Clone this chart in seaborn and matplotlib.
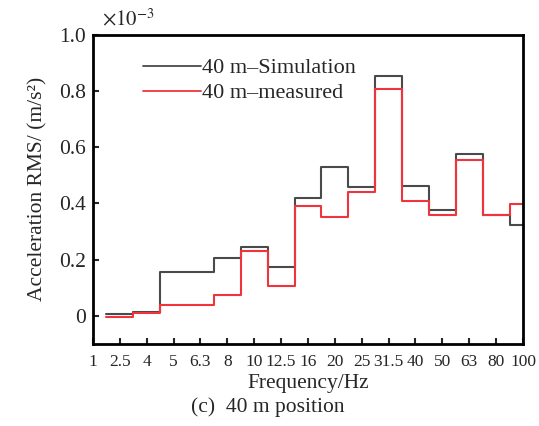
import numpy as np
import pandas as pd
import matplotlib
matplotlib.use("Agg")
import matplotlib.pyplot as plt
import seaborn as sns

# ---- data ----
freq_labels = ["1", "2.5", "4", "5", "6.3", "8", "10", "12.5", "16", "20",
               "25", "31.5", "40", "50", "63", "80", "100"]
band_labels = freq_labels[1:]  # one value per band, centred on the label
simulation = [0.008, 0.015, 0.157, 0.155, 0.207, 0.245, 0.175, 0.420, 0.529,
              0.457, 0.851, 0.460, 0.376, 0.574, 0.358, 0.323]
measured = [-0.004, 0.011, 0.040, 0.040, 0.074, 0.229, 0.105, 0.389, 0.353,
            0.442, 0.805, 0.410, 0.359, 0.555, 0.358, 0.396]
series_names = ["40 m\u2013Simulation", "40 m\u2013measured"]
y_ticks = [0, 0.2, 0.4, 0.6, 0.8, 1.0]
y_tick_labels = ["0", "0.2", "0.4", "0.6", "0.8", "1.0"]

sns.set_theme(style="ticks")
plt.rcParams["font.family"] = ["Liberation Serif", "DejaVu Serif"]
plt.rcParams["mathtext.fontset"] = "stix"

# band edges on the categorical axis (band i centred at label index i+1)
centres = np.arange(1, len(band_labels) + 1)
edges = np.append(centres - 0.5, centres[-1] + 0.5)

rows = []
for name, vals in zip(series_names, [simulation, measured]):
    yv = list(vals) + [vals[-1]]
    for e, v in zip(edges, yv):
        rows.append({"edge": e, "value": v, "series": name})
df = pd.DataFrame(rows)

fig = plt.figure(figsize=(5.39, 4.26), dpi=100)
ax = fig.add_axes([0.1725, 0.1925, 0.7978, 0.7265])

palette = {series_names[0]: "#4a4a4a", series_names[1]: "#f0343c"}
sns.lineplot(data=df, x="edge", y="value", hue="series", palette=palette,
             drawstyle="steps-post", linewidth=1.5, ax=ax, sort=False,
             estimator=None)

ax.set_xlim(0, len(freq_labels) - 1)
ax.set_ylim(-0.1, 1.0)
ax.set_xticks(np.arange(len(freq_labels)))
ax.set_xticklabels(freq_labels, fontsize=12.5)
ax.set_yticks(y_ticks)
ax.set_yticklabels(y_tick_labels, fontsize=15.5)
ax.tick_params(direction="in", length=4.5, width=1.5, pad=5)
ax.tick_params(axis="x", pad=7)
for lbl in ax.get_xticklabels():
    lbl.set_fontstretch("condensed")
for s in ax.spines.values():
    s.set_linewidth(2)
    s.set_color("black")
    s.set_visible(True)

ax.set_xlabel("Frequency/Hz", fontsize=15.5, labelpad=3)
ax.set_ylabel("Acceleration RMS/ (m/s\u00b2)", fontsize=15.5, labelpad=8)
ax.text(0.02, 1.015, r"$\times10^{-3}$", transform=ax.transAxes,
        fontsize=15, ha="left", va="bottom")

leg = ax.legend(loc="upper left", bbox_to_anchor=(0.08, 0.975), frameon=False,
                fontsize=16, handlelength=2.6, handletextpad=0.05,
                labelspacing=0.2, borderpad=0.2)
for line in leg.get_lines():
    line.set_linewidth(1.3)

fig.text(0.497, 0.02, "(c)  40 m position", ha="center", va="bottom",
         fontsize=15.5)

fig.savefig("out.png", dpi=100)
